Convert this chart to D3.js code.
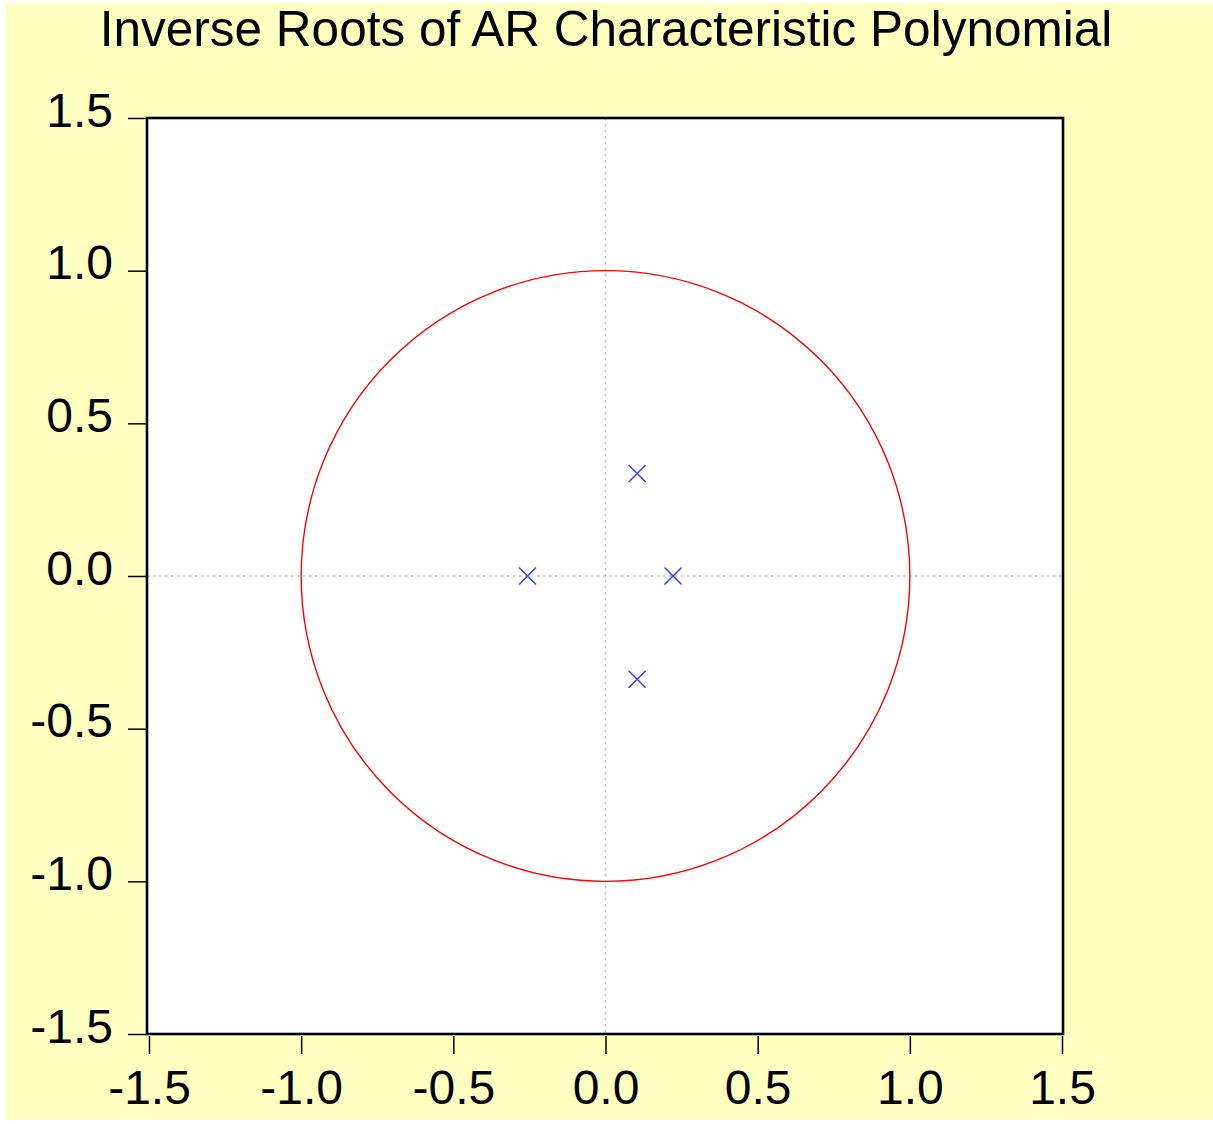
<!DOCTYPE html>
<html>
<head>
<meta charset="utf-8">
<script src="https://cdn.jsdelivr.net/npm/d3@7"></script>
<style>
  html, body { margin: 0; padding: 0; background: #fff; }
  text { font-family: "Liberation Sans", Arial, sans-serif; fill: #000; }
</style>
</head>
<body>
<script>
var rootRe = [0.104, 0.104, -0.256, 0.222];
var rootIm = [0.336, -0.338, 0.0, 0.0];

var tickValues = [-1.5, -1.0, -0.5, 0.0, 0.5, 1.0, 1.5];
var title = "Inverse Roots of AR Characteristic Polynomial";

var W = 1213, H = 1124;
var plot = {left: 147, top: 118, right: 1063, bottom: 1034};

var svg = d3.select("body").append("svg")
    .attr("width", W)
    .attr("height", H);

// yellow page background
svg.append("rect")
    .attr("x", 6).attr("y", 3)
    .attr("width", W - 6).attr("height", H - 7)
    .style("fill", "#ffffc0");

var x = d3.scaleLinear().domain([-1.5, 1.5]).range([plot.left + 2, plot.right - 1]);
var y = d3.scaleLinear().domain([-1.5, 1.5]).range([plot.bottom, plot.top]);

// white plot area
svg.append("rect")
    .attr("x", plot.left).attr("y", plot.top)
    .attr("width", plot.right - plot.left)
    .attr("height", plot.bottom - plot.top)
    .style("fill", "#fff");

// dotted zero lines
svg.append("line")
    .attr("x1", x(0)).attr("x2", x(0))
    .attr("y1", plot.top).attr("y2", plot.bottom)
    .style("stroke", "#bdbdbd").style("stroke-width", 1.5)
    .style("stroke-dasharray", "2.5,3.5");
svg.append("line")
    .attr("x1", plot.left).attr("x2", plot.right)
    .attr("y1", y(0)).attr("y2", y(0))
    .style("stroke", "#bdbdbd").style("stroke-width", 1.5)
    .style("stroke-dasharray", "2.5,3.5");

// unit circle
svg.append("ellipse")
    .attr("cx", x(0)).attr("cy", y(0))
    .attr("rx", x(1) - x(0)).attr("ry", y(0) - y(1))
    .style("fill", "none")
    .style("stroke", "#ff0000")
    .style("stroke-width", 1.4);

// root markers (x shape)
var roots = rootRe.map(function(d, i) { return {re: d, im: rootIm[i]}; });
var s = 8.5;
svg.append("g").selectAll("path")
    .data(roots)
  .enter().append("path")
    .attr("d", function(d) {
        var cx = x(d.re), cy = y(d.im);
        return "M" + (cx - s) + "," + (cy - s) + "L" + (cx + s) + "," + (cy + s) +
               "M" + (cx - s) + "," + (cy + s) + "L" + (cx + s) + "," + (cy - s);
    })
    .style("stroke", "#3c3cff")
    .style("stroke-width", 1.5)
    .style("fill", "none");

// frame
svg.append("rect")
    .attr("x", plot.left).attr("y", plot.top)
    .attr("width", plot.right - plot.left)
    .attr("height", plot.bottom - plot.top)
    .style("fill", "none")
    .style("stroke", "#000")
    .style("stroke-width", 2.6);

// plain hyphen for negatives, like the original
var fmt = function(d) { return d3.format(".1f")(d).replace("\u2212", "-"); };

// x axis
var xAxis = d3.axisBottom(x)
    .tickValues(tickValues)
    .tickSize(18)
    .tickPadding(16)
    .tickFormat(fmt);
var gx = svg.append("g")
    .attr("transform", "translate(0," + (plot.bottom + 2) + ")")
    .call(xAxis);
gx.select(".domain").remove();
gx.selectAll(".tick line").style("stroke", "#000").style("stroke-width", 1.5);
gx.selectAll(".tick text")
    .style("font-size", "48px")
    .attr("dy", "0.71em");

// y axis
var yAxis = d3.axisLeft(y)
    .tickValues(tickValues)
    .tickSize(18)
    .tickPadding(15)
    .tickFormat(fmt);
var gy = svg.append("g")
    .attr("transform", "translate(" + (plot.left - 1) + ",0)")
    .call(yAxis);
gy.select(".domain").remove();
gy.selectAll(".tick line").style("stroke", "#000").style("stroke-width", 1.5);
gy.selectAll(".tick text")
    .style("font-size", "48px")
    .attr("dy", "0.17em");

// title
svg.append("text")
    .attr("x", 606)
    .attr("y", 46)
    .attr("text-anchor", "middle")
    .style("font-size", "49.5px")
    .text(title);
</script>
</body>
</html>
